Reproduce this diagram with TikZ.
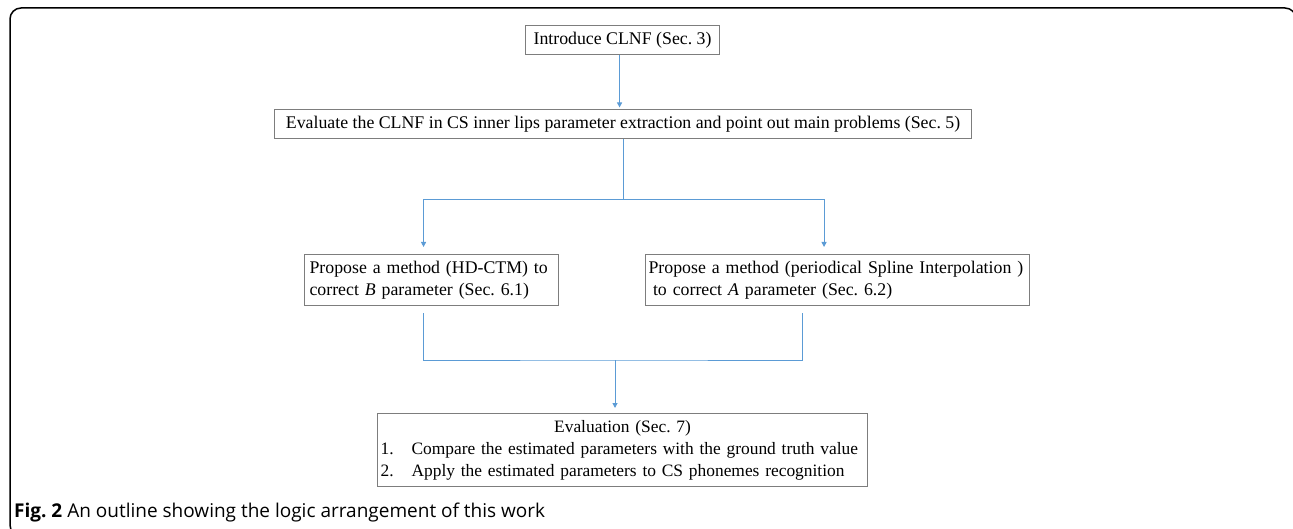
\documentclass[tikz,border=0pt]{standalone}
\usepackage{fontspec}
\setmainfont{Liberation Serif}
\newfontfamily\capfont{Open Sans}
\usepackage{tikz}
\usetikzlibrary{arrows.meta,positioning}
\definecolor{linkblue}{RGB}{91,155,213}
\definecolor{boxgray}{RGB}{125,125,125}
\frenchspacing

\begin{document}
\begin{tikzpicture}[
	x=1pt, y=-1pt,
	font=\fontsize{17.8}{21.5}\selectfont,
	>={Triangle[length=5pt,width=5pt]},
	bx/.style={rectangle, draw=boxgray, line width=1.1pt, anchor=north west, inner ysep=0pt},
	lnk/.style={linkblue, line width=1pt},
	captxt/.style={anchor=base west, inner sep=0pt, font=\capfont\fontsize{19}{22}\selectfont},
]
\useasboundingbox (0,0) rectangle (1293,529);
\clip (0,0) rectangle (1293,529);
% frame
\draw[line width=1.5pt, rounded corners=11pt] (1296,60) |- (10,8) |- (120,536);
% boxes
\node[bx, minimum width=194pt, minimum height=29pt] (intro) at (525,25) {Introduce CLNF (Sec. 3)};
\node[bx, minimum width=697pt, minimum height=29pt] (eval) at (274,109) {Evaluate the CLNF in CS inner lips parameter extraction and point out main problems (Sec. 5)};
\node[bx, inner xsep=5pt, text width=244pt, align=left, minimum height=51pt] (propB) at (304,254)
	{\mbox{Propose a method (HD-CTM) to}\\\mbox{correct \textit{B} parameter (Sec. 6.1)}};
\node[bx, inner xsep=3pt, text width=378pt, align=left, minimum height=51pt] (propA) at (645,254)
	{\mbox{Propose a method (periodical Spline Interpolation )}\\\mbox{\hspace*{0.25em}to correct \textit{A} parameter (Sec. 6.2)}};
\node[bx, inner xsep=3pt, text width=484pt, align=left, minimum height=73pt, font=\fontsize{17.4}{21.8}\selectfont] (evalsec) at (377,413)
	{\makebox[484pt][c]{Evaluation (Sec. 7)}\\\mbox{\makebox[31pt][l]{1.}Compare the estimated parameters with the ground truth value}\\\mbox{\makebox[31pt][l]{2.}Apply the estimated parameters to CS phonemes recognition}};
\node[captxt] (caption) at (14,517) {\bfseries Fig. 2\mdseries\ An outline showing the logic arrangement of this work};
% connectors
\draw[lnk,->,shorten >=1.5pt] ([xshift=-3pt]intro.south) -- ([xshift=-3pt]intro.south |- eval.north);
\draw[lnk] (eval.south) -- ++(0,60) coordinate (fork);
\draw[lnk,->,shorten >=7pt] (fork) -| ([xshift=-8pt]propB.north);
\draw[lnk,->,shorten >=7pt] (fork) -| ([xshift=-13.5pt]propA.north);
\coordinate (join) at (615,360);
\draw[lnk] ([xshift=-8pt,yshift=-7pt]propB.south) |- (join) -| ([xshift=-35.5pt,yshift=-7pt]propA.south);
\draw[lnk,->,shorten >=5pt] (join) -- (join |- evalsec.north);
\end{tikzpicture}
\end{document}
